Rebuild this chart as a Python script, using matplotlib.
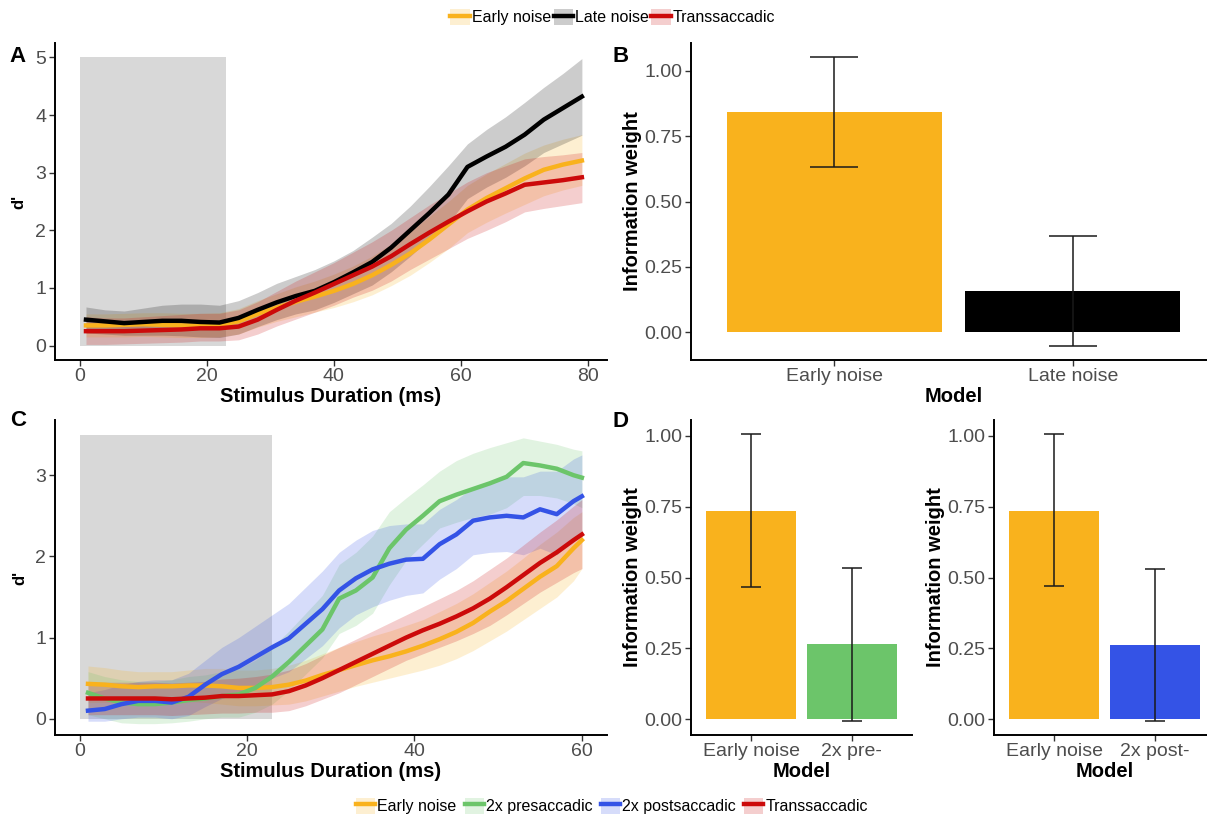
import matplotlib
matplotlib.use("Agg")
import matplotlib.pyplot as plt
from matplotlib.patches import Patch, Rectangle
from matplotlib.lines import Line2D

plt.rcParams['font.family'] = ['Liberation Sans', 'DejaVu Sans']

# ---- panel A data (stimulus duration in ms) ----
a_x = [1, 4, 7, 10, 13, 16, 19, 22, 25, 28, 31, 34, 37, 40, 43, 46, 49, 52, 55, 58, 61, 64, 67, 70, 73, 76, 79]
a_late = [0.45, 0.42, 0.39, 0.41, 0.43, 0.43, 0.41, 0.40, 0.48, 0.62, 0.75, 0.86, 0.95, 1.10, 1.27, 1.45, 1.70, 2.00, 2.30, 2.62, 3.10, 3.28, 3.45, 3.66, 3.92, 4.12, 4.32]
a_late_hi = [0.67, 0.62, 0.60, 0.65, 0.70, 0.72, 0.72, 0.70, 0.78, 0.92, 1.08, 1.20, 1.32, 1.47, 1.65, 1.88, 2.12, 2.42, 2.76, 3.12, 3.50, 3.75, 3.97, 4.22, 4.48, 4.72, 4.98]
a_late_lo = [0.22, 0.20, 0.18, 0.18, 0.18, 0.17, 0.15, 0.14, 0.20, 0.33, 0.45, 0.55, 0.62, 0.75, 0.90, 1.05, 1.28, 1.55, 1.85, 2.12, 2.55, 2.75, 2.92, 3.12, 3.35, 3.50, 3.65]
a_early = [0.35, 0.35, 0.36, 0.37, 0.36, 0.35, 0.35, 0.36, 0.42, 0.55, 0.66, 0.76, 0.85, 0.95, 1.07, 1.22, 1.40, 1.60, 1.84, 2.10, 2.36, 2.56, 2.73, 2.90, 3.05, 3.14, 3.21]
a_early_hi = [0.55, 0.55, 0.56, 0.57, 0.57, 0.56, 0.56, 0.57, 0.64, 0.78, 0.90, 1.02, 1.12, 1.24, 1.38, 1.55, 1.76, 1.98, 2.24, 2.50, 2.78, 2.98, 3.16, 3.34, 3.48, 3.58, 3.66]
a_early_lo = [0.15, 0.15, 0.15, 0.16, 0.15, 0.14, 0.14, 0.15, 0.20, 0.32, 0.42, 0.50, 0.58, 0.66, 0.76, 0.88, 1.04, 1.22, 1.44, 1.68, 1.96, 2.14, 2.30, 2.45, 2.60, 2.70, 2.78]
a_trans = [0.25, 0.25, 0.25, 0.26, 0.27, 0.28, 0.30, 0.30, 0.33, 0.45, 0.62, 0.78, 0.92, 1.07, 1.22, 1.37, 1.55, 1.76, 1.96, 2.15, 2.33, 2.50, 2.64, 2.79, 2.83, 2.87, 2.92]
a_trans_hi = [0.50, 0.48, 0.48, 0.50, 0.52, 0.54, 0.56, 0.56, 0.62, 0.76, 0.94, 1.12, 1.28, 1.44, 1.62, 1.80, 2.00, 2.22, 2.44, 2.64, 2.84, 3.00, 3.12, 3.24, 3.28, 3.31, 3.35]
a_trans_lo = [0.02, 0.02, 0.03, 0.04, 0.05, 0.06, 0.08, 0.08, 0.10, 0.20, 0.34, 0.46, 0.58, 0.70, 0.84, 0.96, 1.12, 1.32, 1.50, 1.68, 1.86, 2.00, 2.15, 2.32, 2.38, 2.43, 2.48]

# ---- panel C data ----
c_x = [1, 3, 5, 7, 9, 11, 13, 15, 17, 19, 21, 23, 25, 27, 29, 31, 33, 35, 37, 39, 41, 43, 45, 47, 49, 51, 53, 55, 57, 59, 60]
c_early = [0.43, 0.42, 0.40, 0.39, 0.40, 0.40, 0.41, 0.41, 0.40, 0.38, 0.38, 0.39, 0.42, 0.47, 0.54, 0.60, 0.66, 0.72, 0.77, 0.83, 0.90, 0.98, 1.07, 1.18, 1.32, 1.45, 1.60, 1.75, 1.88, 2.10, 2.20]
c_early_hi = [0.65, 0.63, 0.60, 0.58, 0.58, 0.58, 0.60, 0.62, 0.62, 0.60, 0.60, 0.62, 0.66, 0.72, 0.80, 0.88, 0.95, 1.02, 1.08, 1.15, 1.22, 1.32, 1.42, 1.54, 1.68, 1.82, 1.98, 2.15, 2.30, 2.48, 2.55]
c_early_lo = [0.20, 0.20, 0.20, 0.19, 0.20, 0.20, 0.21, 0.20, 0.18, 0.16, 0.16, 0.17, 0.18, 0.22, 0.28, 0.34, 0.40, 0.45, 0.50, 0.55, 0.60, 0.66, 0.74, 0.84, 0.96, 1.08, 1.22, 1.36, 1.50, 1.70, 1.85]
c_pre = [0.32, 0.25, 0.20, 0.18, 0.18, 0.20, 0.23, 0.25, 0.28, 0.30, 0.38, 0.52, 0.70, 0.90, 1.10, 1.48, 1.58, 1.74, 2.10, 2.33, 2.50, 2.68, 2.76, 2.83, 2.90, 2.98, 3.15, 3.12, 3.08, 3.00, 2.97]
c_pre_hi = [0.58, 0.52, 0.48, 0.46, 0.46, 0.48, 0.52, 0.54, 0.58, 0.62, 0.72, 0.88, 1.08, 1.30, 1.52, 1.90, 2.05, 2.25, 2.55, 2.72, 2.88, 3.05, 3.18, 3.27, 3.34, 3.40, 3.46, 3.42, 3.38, 3.32, 3.30]
c_pre_lo = [0.05, 0.00, -0.05, -0.06, -0.06, -0.05, -0.03, 0.00, 0.02, 0.02, 0.08, 0.18, 0.35, 0.55, 0.75, 1.05, 1.15, 1.30, 1.65, 1.95, 2.15, 2.35, 2.42, 2.48, 2.52, 2.60, 2.75, 2.75, 2.72, 2.65, 2.60]
c_post = [0.10, 0.12, 0.18, 0.22, 0.22, 0.20, 0.27, 0.42, 0.55, 0.64, 0.76, 0.88, 0.99, 1.17, 1.35, 1.58, 1.73, 1.84, 1.91, 1.96, 1.97, 2.15, 2.27, 2.44, 2.48, 2.50, 2.48, 2.58, 2.52, 2.68, 2.74]
c_post_hi = [0.32, 0.36, 0.42, 0.46, 0.48, 0.48, 0.56, 0.72, 0.88, 1.00, 1.14, 1.28, 1.42, 1.62, 1.82, 2.05, 2.20, 2.32, 2.38, 2.40, 2.40, 2.58, 2.70, 2.85, 2.92, 2.98, 2.98, 3.05, 3.05, 3.20, 3.25]
c_post_lo = [-0.03, -0.03, 0.00, 0.02, 0.02, 0.00, 0.04, 0.15, 0.25, 0.32, 0.40, 0.50, 0.58, 0.74, 0.90, 1.12, 1.28, 1.38, 1.46, 1.52, 1.55, 1.72, 1.85, 2.02, 2.05, 2.06, 2.02, 2.10, 2.02, 2.20, 2.25]
c_trans = [0.25, 0.25, 0.25, 0.25, 0.25, 0.24, 0.25, 0.26, 0.28, 0.28, 0.29, 0.30, 0.34, 0.41, 0.50, 0.60, 0.70, 0.80, 0.90, 1.00, 1.09, 1.17, 1.26, 1.36, 1.48, 1.62, 1.77, 1.92, 2.05, 2.20, 2.27]
c_trans_hi = [0.45, 0.45, 0.45, 0.45, 0.45, 0.44, 0.45, 0.46, 0.49, 0.50, 0.52, 0.55, 0.60, 0.68, 0.78, 0.88, 0.98, 1.08, 1.18, 1.28, 1.38, 1.48, 1.58, 1.70, 1.84, 1.98, 2.14, 2.30, 2.45, 2.62, 2.70]
c_trans_lo = [0.05, 0.05, 0.05, 0.05, 0.05, 0.04, 0.05, 0.06, 0.07, 0.07, 0.08, 0.08, 0.10, 0.16, 0.24, 0.32, 0.42, 0.52, 0.62, 0.72, 0.80, 0.88, 0.96, 1.05, 1.15, 1.28, 1.42, 1.56, 1.68, 1.80, 1.85]

# ---- bar panels: information weights ----
b_models = ['Early noise', 'Late noise']
b_weight = [0.84, 0.16]
b_err_lo = [0.63, -0.05]
b_err_hi = [1.05, 0.37]

d1_models = ['Early noise', '2x pre-']
d1_weight = [0.735, 0.265]
d1_err_lo = [0.465, -0.005]
d1_err_hi = [1.005, 0.535]

d2_models = ['Early noise', '2x post-']
d2_weight = [0.735, 0.262]
d2_err_lo = [0.47, -0.005]
d2_err_hi = [1.005, 0.53]

ORANGE = '#F9B21D'
BLACK = '#000000'
RED = '#CC0A0A'
GREEN = '#6CC56A'
BLUE = '#3453E6'
TICK_COL = '#4D4D4D'


def style_axes(ax):
    for s in ['top', 'right']:
        ax.spines[s].set_visible(False)
    for s in ['left', 'bottom']:
        ax.spines[s].set_linewidth(1.4)
    ax.tick_params(direction='out', length=4, width=1.0, color='#333333',
                   labelsize=14, labelcolor=TICK_COL, pad=2)


def curve_panel(ax, x, series, rect_top, xticks, xlim, ylim, yticks):
    ax.add_patch(Rectangle((0, 0), 23, rect_top, facecolor='#808080', alpha=0.3,
                           edgecolor='none', zorder=0))
    for mean, lo, hi, col in series:
        ax.fill_between(x, lo, hi, color=col, alpha=0.2, linewidth=0, zorder=1)
    for mean, lo, hi, col in series:
        ax.plot(x, mean, color=col, lw=3.2, zorder=2, solid_joinstyle='round')
    ax.set_xlim(*xlim)
    ax.set_ylim(*ylim)
    ax.set_xticks(xticks)
    ax.set_yticks(yticks)
    ax.set_xlabel('Stimulus Duration (ms)', fontsize=14.5, fontweight='bold', labelpad=1)
    ax.set_ylabel("d'", fontsize=12, fontweight='bold', labelpad=6)
    style_axes(ax)


def bar_panel(ax, models, weights, lo, hi, colors):
    pos = list(range(1, len(models) + 1))
    ax.bar(pos, weights, width=0.9, color=colors, zorder=1)
    ax.vlines(pos, lo, hi, color='#1A1A1A', lw=1.1, zorder=2)
    ax.hlines(lo, [p - 0.1 for p in pos], [p + 0.1 for p in pos], color='#1A1A1A', lw=1.1, zorder=2)
    ax.hlines(hi, [p - 0.1 for p in pos], [p + 0.1 for p in pos], color='#1A1A1A', lw=1.1, zorder=2)
    ax.set_xticks(pos)
    ax.set_xticklabels(models)
    ax.set_xlim(0.4, 2.6)
    ax.set_yticks([0, 0.25, 0.5, 0.75, 1.0])
    ax.set_yticklabels(['0.00', '0.25', '0.50', '0.75', '1.00'])
    ax.set_xlabel('Model', fontsize=14.5, fontweight='bold', labelpad=1)
    ax.set_ylabel('Information weight', fontsize=14.5, fontweight='bold', labelpad=2)
    style_axes(ax)


W, H = 1207, 819
fig = plt.figure(figsize=(W / 100, H / 100), dpi=100)

axA = fig.add_axes([54.5 / W, 1 - 360 / H, 552.5 / W, 317 / H])
axB = fig.add_axes([691 / W, 1 - 360 / H, 525 / W, 317 / H])
axC = fig.add_axes([54.5 / W, 1 - 735 / H, 552.5 / W, 315 / H])
axD1 = fig.add_axes([691 / W, 1 - 735 / H, 221 / W, 315 / H])
axD2 = fig.add_axes([994 / W, 1 - 735 / H, 221 / W, 315 / H])

curve_panel(axA, a_x,
            [(a_early, a_early_lo, a_early_hi, ORANGE),
             (a_late, a_late_lo, a_late_hi, BLACK),
             (a_trans, a_trans_lo, a_trans_hi, RED)],
            5, [0, 20, 40, 60, 80], (-3.95, 82.95), (-0.25, 5.25), [0, 1, 2, 3, 4, 5])

curve_panel(axC, c_x,
            [(c_early, c_early_lo, c_early_hi, ORANGE),
             (c_pre, c_pre_lo, c_pre_hi, GREEN),
             (c_post, c_post_lo, c_post_hi, BLUE),
             (c_trans, c_trans_lo, c_trans_hi, RED)],
            3.5, [0, 20, 40, 60], (-3.0, 63.0), (-0.2, 3.68), [0, 1, 2, 3])

bar_panel(axB, b_models, b_weight, b_err_lo, b_err_hi, [ORANGE, BLACK])
axB.set_ylim(-0.105, 1.105)
bar_panel(axD1, d1_models, d1_weight, d1_err_lo, d1_err_hi, [ORANGE, GREEN])
axD1.set_ylim(-0.056, 1.056)
bar_panel(axD2, d2_models, d2_weight, d2_err_lo, d2_err_hi, [ORANGE, BLUE])
axD2.set_ylim(-0.056, 1.056)

# panel letters
for lbl, px, py in [('A', 18, 56), ('B', 621, 56), ('C', 18, 421), ('D', 621, 422)]:
    fig.text(px / W, 1 - py / H, lbl, fontsize=16, fontweight='bold', ha='center', va='center')


def key(col):
    return (Patch(facecolor=col, alpha=0.2, edgecolor='none'), Line2D([], [], color=col, lw=3.2))


top_names = ['Early noise', 'Late noise', 'Transsaccadic']
top_cols = [ORANGE, BLACK, RED]
fig.legend([key(c) for c in top_cols], top_names, loc='center', bbox_to_anchor=(613 / W, 1 - 17 / H),
           ncol=3, frameon=False, fontsize=11.5, handlelength=1.2, handleheight=1.2,
           handletextpad=0.15, columnspacing=0.15)

bot_names = ['Early noise', '2x presaccadic', '2x postsaccadic', 'Transsaccadic']
bot_cols = [ORANGE, GREEN, BLUE, RED]
fig.legend([key(c) for c in bot_cols], bot_names, loc='center', bbox_to_anchor=(612 / W, 1 - 806 / H),
           ncol=4, frameon=False, fontsize=11.5, handlelength=1.2, handleheight=1.2,
           handletextpad=0.15, columnspacing=0.5)

fig.savefig('out.png', dpi=100)
